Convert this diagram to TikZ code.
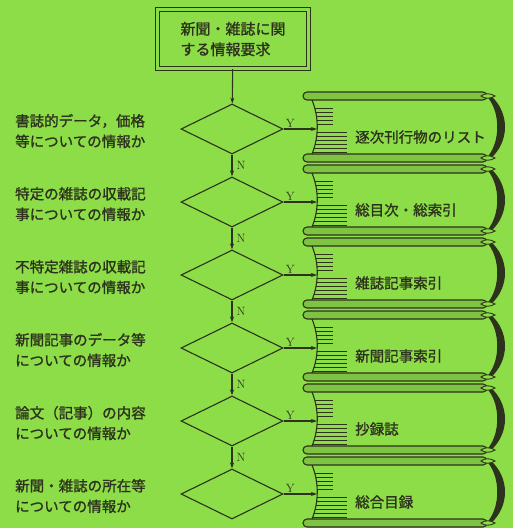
\documentclass[tikz,border=0pt]{standalone}
\usepackage{fontspec}
\newfontfamily\jp[FakeBold=1.3]{Noto Sans CJK JP}
\usetikzlibrary{shapes.geometric,arrows.meta}
\definecolor{paper}{RGB}{140,221,72}
\definecolor{ink}{RGB}{45,50,28}
\tikzset{
  reqbox/.style={draw=ink, double=paper, double distance=3.2pt, line width=1.2pt,
    minimum width=151pt, minimum height=59pt, align=left, text=ink,
    font=\jp\fontsize{15}{20.5}\selectfont},
  query/.style={diamond, draw=ink, line width=1.1pt, minimum width=102pt,
    minimum height=50pt, inner sep=0pt},
  ask/.style={anchor=west, align=left, inner sep=0pt, text=ink,
    font=\jp\fontsize{14.5}{20.5}\selectfont},
  title/.style={anchor=west, inner sep=0pt, text=ink, font=\jp\fontsize{14.5}{16}\selectfont},
  yn/.style={text=ink, inner sep=1pt, font=\fontsize{12}{12}\selectfont},
  flow/.style={draw=ink, line width=1.1pt, ->},
  cover/.style={draw=ink, line width=1.1pt, fill=paper!85!ink, rounded corners=4pt},
  leaf/.style={draw=ink, line width=0.9pt}
}
\begin{document}
\begin{tikzpicture}[x=1pt, y=-1pt, >={Stealth[length=6pt,width=4pt]}]
\useasboundingbox (0,0) rectangle (513,528);
\fill[paper] (0,0) rectangle (513,528);

% the stack of books
\foreach \lbl [count=\i from 0] in {逐次刊行物のリスト,総目次・総索引,雑誌記事索引,新聞記事索引,抄録誌,総合目録}{
  \pgfmathsetmacro\y{92+73*\i}
  % spine
  \fill[ink] (490,\y+3) .. controls (510,\y+20) and (510,\y+50) .. (490,\y+67)
    -- (489,\y+63) .. controls (500,\y+48) and (500,\y+22) .. (489,\y+7) -- cycle;
  % covers
  \foreach \c in {0,62}{
    \draw[cover] (303,\y+\c) rectangle (487,\y+\c+8);
    \draw[ink, line width=0.9pt, fill=paper] (481,\y+\c+4) .. controls (485,\y+\c+1) and (490,\y+\c+1) .. (495,\y+\c+4)
      .. controls (490,\y+\c+7) and (485,\y+\c+7) .. (481,\y+\c+4) -- cycle;
  }
  % pages
  \draw[leaf, line width=1.1pt] (312,\y+8) .. controls (319,\y+25) and (319,\y+45) .. (312,\y+62);
  \foreach \d in {16,20,...,32}{
    \pgfmathsetmacro\t{(\d-8)/54}
    \draw[leaf] ({312+21*\t*(1-\t)},\y+\d) -- (333,\y+\d);
  }
  \foreach \d in {40,44,...,60}{
    \pgfmathsetmacro\t{(\d-8)/54}
    \draw[leaf] ({312+21*\t*(1-\t)},\y+\d) -- (347,\y+\d);
  }
  \coordinate (b\i) at (317,\y+37);
  \node[title] (l\i) at (355,\y+45) {\lbl};
}

\node[reqbox] (req) at (233,39) {新聞・雑誌に関\\する情報要求};

\foreach \i in {0,...,5}
  \node[query] (q\i) at (232,{129+73*\i}) {};

\foreach \q [count=\i from 0] in {
  {書誌的データ，価格\\等についての情報か},
  {特定の雑誌の収載記\\事についての情報か},
  {不特定雑誌の収載記\\事についての情報か},
  {新聞記事のデータ等\\についての情報か},
  {論文（記事）の内容\\についての情報か},
  {新聞・雑誌の所在等\\についての情報か}}
  \node[ask] (t\i) at (15,{131+73*\i}) {\q};

\draw[flow] (req) -- (q0);
\foreach \i [count=\j from 1] in {0,...,4}
  \draw[flow] (q\i) -- node[yn, right, xshift=3pt] {N} (q\j);
\foreach \i in {0,...,5}
  \draw[flow] (q\i.east) -- node[yn, above, pos=0.2] {Y} (b\i);
\end{tikzpicture}
\end{document}
